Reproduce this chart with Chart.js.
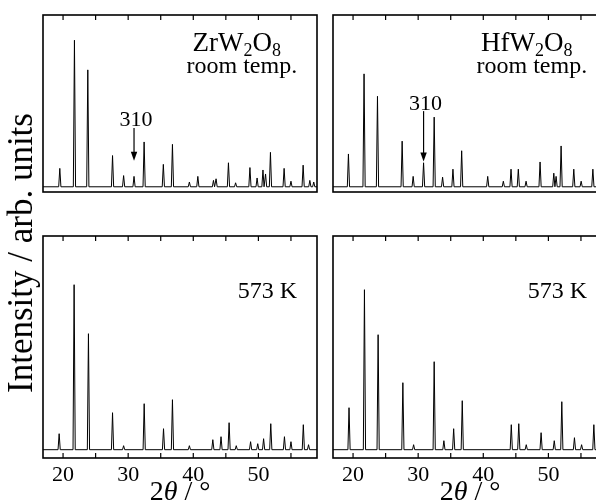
<!DOCTYPE html>
<html>
<head>
<meta charset="utf-8">
<script src="https://cdn.jsdelivr.net/npm/chart.js@4.4.1/dist/chart.umd.min.js"></script>
<style>
  html, body { margin: 0; padding: 0; background: #fff; overflow: hidden; }
  #fig { position: relative; width: 596px; height: 502px; overflow: hidden; }
  #fig canvas { position: absolute; }
  #ytitle {
    position: absolute; left: 21px; top: 253px;
    transform: translate(-50%, -50%) rotate(-90deg);
    font: 35px "Liberation Serif", serif; color: #000; white-space: nowrap;
  }
</style>
</head>
<body>
<div id="fig">
  <canvas id="zrRoom" width="286" height="233" style="left:37px;top:9px"></canvas>
  <canvas id="hfRoom" width="286" height="233" style="left:327px;top:9px"></canvas>
  <canvas id="zrHot" width="286" height="272" style="left:37px;top:230px"></canvas>
  <canvas id="hfHot" width="286" height="272" style="left:327px;top:230px"></canvas>
  <div id="ytitle">Intensity / arb. units</div>
</div>
<script>
'use strict'

// 2theta range shown in every panel
const X_MIN = 16.92
const X_MAX = 59.0
const xTickLabels = [20, 30, 40, 50]

// ZrW2O8, room temperature: peak positions (deg) and heights (arb. units)
const zrRoomPos = [19.5, 21.75, 23.8, 27.6, 29.3, 30.9, 32.45, 35.4, 36.8, 39.4, 40.7, 43.1, 43.5, 45.4, 46.5, 48.7, 49.8, 50.7, 51.1, 51.85, 53.95, 55.0, 56.87, 57.9, 58.5]
const zrRoomInt = [23, 183, 146, 39, 14, 13, 56, 28, 53, 6, 13, 8, 10, 30, 5, 24, 11, 21, 16, 43, 23, 7, 27, 8, 6]

// HfW2O8, room temperature
const hfRoomPos = [19.29, 21.69, 23.75, 27.54, 29.23, 30.83, 32.46, 33.75, 35.34, 36.68, 40.68, 43.08, 44.26, 45.38, 46.57, 48.72, 50.83, 51.18, 51.95, 53.9, 55.03, 56.83, 57.9]
const hfRoomInt = [41, 141, 113, 57, 13, 30, 87, 12, 22, 45, 13, 7, 22, 22, 7, 31, 17, 13, 51, 22, 7, 22, 8]

// ZrW2O8, 573 K
const zrHotPos = [19.4, 21.7, 23.9, 27.6, 29.3, 32.46, 35.43, 36.8, 39.4, 43.0, 44.26, 45.5, 46.6, 48.8, 49.9, 50.8, 51.9, 54.0, 55.0, 56.9, 57.7]
const zrHotInt = [16, 165, 116, 37, 4, 46, 21, 50, 4, 10, 13, 27, 4, 8, 6, 11, 26, 13, 8, 25, 5]

// HfW2O8, 573 K
const hfHotPos = [19.38, 21.75, 23.85, 27.65, 29.3, 32.46, 33.95, 35.45, 36.77, 44.3, 45.45, 46.6, 48.88, 50.9, 52.06, 54.0, 55.1, 56.98]
const hfHotInt = [42, 160, 115, 67, 5, 88, 9, 21, 49, 25, 26, 5, 17, 9, 48, 12, 5, 25]

// narrow spikes on a flat background
function pattern(pos, int) {
  const pts = [{ x: X_MIN, y: 0 }]
  pos.forEach((p, i) => {
    pts.push({ x: p - 0.17, y: 0 }, { x: p, y: int[i] }, { x: p + 0.17, y: 0 })
  })
  pts.push({ x: X_MAX, y: 0 })
  return pts
}

const SERIF = '"Liberation Serif", "Times New Roman", serif'

function drawParts(ctx, parts, x, y) {
  // parts: [text, isSubscript]
  const widths = parts.map(([t, sub]) => {
    ctx.font = (sub ? '18px ' : '27px ') + SERIF
    return ctx.measureText(t).width
  })
  const total = widths.reduce((a, b) => a + b, 0)
  let cx = x - total / 2
  ctx.textAlign = 'left'
  ctx.textBaseline = 'alphabetic'
  parts.forEach(([t, sub], i) => {
    ctx.font = (sub ? '18px ' : '27px ') + SERIF
    ctx.fillText(t, cx, sub ? y + 5 : y)
    cx += widths[i]
  })
}

const panelDecor = {
  id: 'panelDecor',
  afterDraw(chart, args, opts) {
    const { ctx, chartArea: a, scales: { x, y } } = chart
    ctx.save()
    ctx.strokeStyle = '#000'
    ctx.fillStyle = '#000'

    // frame
    ctx.lineWidth = 1.6
    ctx.strokeRect(a.left, a.top, a.right - a.left, a.bottom - a.top)

    // inward ticks every 5 degrees
    ctx.lineWidth = 1.2
    ctx.beginPath()
    for (let v = 20; v <= 55; v += 5) {
      const px = x.getPixelForValue(v)
      ctx.moveTo(px, a.top)
      ctx.lineTo(px, a.top + 5)
      if (opts.bottomTicks) {
        ctx.moveTo(px, a.bottom)
        ctx.lineTo(px, a.bottom - 5)
      }
    }
    ctx.stroke()

    const right = x.getPixelForValue(opts.textRight)
    if (opts.formula) {
      ctx.font = '24px ' + SERIF
      const w = ctx.measureText('room temp.').width
      drawParts(ctx, opts.formula, right - w / 2 - 5, a.top + 36)
      ctx.font = '24px ' + SERIF
      ctx.textAlign = 'right'
      ctx.fillText('room temp.', right, a.top + 58)
    }
    if (opts.temp) {
      ctx.font = '24px ' + SERIF
      ctx.textAlign = 'right'
      ctx.textBaseline = 'alphabetic'
      ctx.fillText(opts.temp, right, a.top + 62)
    }

    // reflection marker
    if (opts.arrow) {
      const ax = x.getPixelForValue(opts.arrow.at)
      const yTop = y.getPixelForValue(opts.arrow.from)
      const yTip = y.getPixelForValue(opts.arrow.to)
      ctx.lineWidth = 1.2
      ctx.beginPath()
      ctx.moveTo(ax, yTop)
      ctx.lineTo(ax, yTip - 8)
      ctx.stroke()
      ctx.beginPath()
      ctx.moveTo(ax - 3.2, yTip - 9)
      ctx.lineTo(ax + 3.2, yTip - 9)
      ctx.lineTo(ax, yTip)
      ctx.closePath()
      ctx.fill()
      ctx.font = '22px ' + SERIF
      ctx.textAlign = 'center'
      ctx.textBaseline = 'alphabetic'
      ctx.fillText(opts.arrow.text, ax + 2, y.getPixelForValue(opts.arrow.label))
    }

    // axis title under the bottom panels
    if (opts.xTitle) {
      const pieces = [['2', 'normal'], ['\u03b8', 'italic'], [' / \u00b0', 'normal']]
      const ws = pieces.map(([t, st]) => {
        ctx.font = st + ' 28px ' + SERIF
        return ctx.measureText(t).width
      })
      let cx = (a.left + a.right) / 2 - ws.reduce((s, v) => s + v, 0) / 2
      ctx.textAlign = 'left'
      ctx.textBaseline = 'alphabetic'
      pieces.forEach(([t, st], i) => {
        ctx.font = st + ' 28px ' + SERIF
        ctx.fillText(t, cx, a.bottom + 42)
        cx += ws[i]
      })
    }
    ctx.restore()
  }
}

function makePanel(id, pos, int, bottom, decor) {
  const xScale = {
    type: 'linear',
    min: X_MIN,
    max: X_MAX,
    bounds: 'data',
    display: bottom,
    grid: { display: false },
    border: { display: false },
    ticks: {
      padding: -4,
      color: '#000',
      font: { family: SERIF, size: 22 },
      maxRotation: 0,
      autoSkip: false
    },
    afterBuildTicks: (scale) => {
      scale.ticks = xTickLabels.map((v) => ({ value: v }))
    },
    afterFit: (scale) => { scale.height = 44 }
  }
  return new Chart(document.getElementById(id), {
    type: 'line',
    data: {
      datasets: [{
        data: pattern(pos, int),
        borderColor: '#000',
        borderWidth: 1,
        pointRadius: 0,
        tension: 0,
        fill: false
      }]
    },
    options: {
      responsive: false,
      animation: false,
      devicePixelRatio: 1,
      layout: { padding: bottom ? { top: 6, left: 6, right: 6, bottom: 0 } : 6 },
      scales: {
        x: xScale,
        y: {
          type: 'linear',
          display: false,
          bounds: 'data',
          min: bottom ? -8.3 : -6.5,
          max: bottom ? 213.7 : 214.5
        }
      },
      plugins: {
        legend: { display: false },
        tooltip: { enabled: false },
        panelDecor: Object.assign({ bottomTicks: bottom, xTitle: bottom, textRight: 55.95 }, decor)
      }
    },
    plugins: [panelDecor]
  })
}

makePanel('zrRoom', zrRoomPos, zrRoomInt, false, {
  formula: [['ZrW', 0], ['2', 1], ['O', 0], ['8', 1]],
  arrow: { at: 30.9, from: 73.5, to: 32.5, label: 76.5, text: '310' }
})
makePanel('hfRoom', hfRoomPos, hfRoomInt, false, {
  formula: [['HfW', 0], ['2', 1], ['O', 0], ['8', 1]],
  arrow: { at: 30.83, from: 94.5, to: 31.5, label: 96.5, text: '310' }
})
makePanel('zrHot', zrHotPos, zrHotInt, true, { temp: '573 K' })
makePanel('hfHot', hfHotPos, hfHotInt, true, { temp: '573 K' })
</script>
</body>
</html>
